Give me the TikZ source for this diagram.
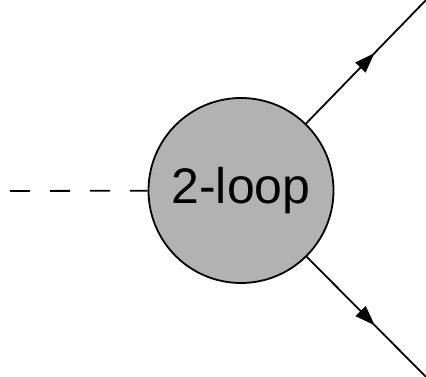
\documentclass[tikz,border=0pt]{standalone}
\usepackage{fontspec}
\setmainfont{Liberation Sans}
\usepackage{tikz}
\usetikzlibrary{arrows.meta, decorations.markings}

\tikzset{
  vertex/.style={circle, draw, fill=black!30, line width=1.8pt, minimum size=185pt, inner sep=0pt,
    font=\fontsize{50}{58}\selectfont},
  scalar/.style={line width=1.8pt, dash pattern=on 20pt off 20pt},
  fermion/.style={line width=1.8pt, postaction={decorate},
    decoration={markings, mark=at position 0.56 with {\arrow{Triangle[length=20pt, width=14pt]}}}}
}

\begin{document}
\begin{tikzpicture}[x=1pt, y=1pt]
    \useasboundingbox (0,0) rectangle (426,377);
    \coordinate (in) at (10,186);
    \coordinate (outup) at (428,379);
    \coordinate (outdown) at (428,-2);
    \node[vertex] (loop) at (241,186.5) {2-loop};
    \draw[scalar] (in) -- (loop);
    \draw[fermion] (loop) -- (outup);
    \draw[fermion] (loop) -- (outdown);
\end{tikzpicture}
\end{document}
